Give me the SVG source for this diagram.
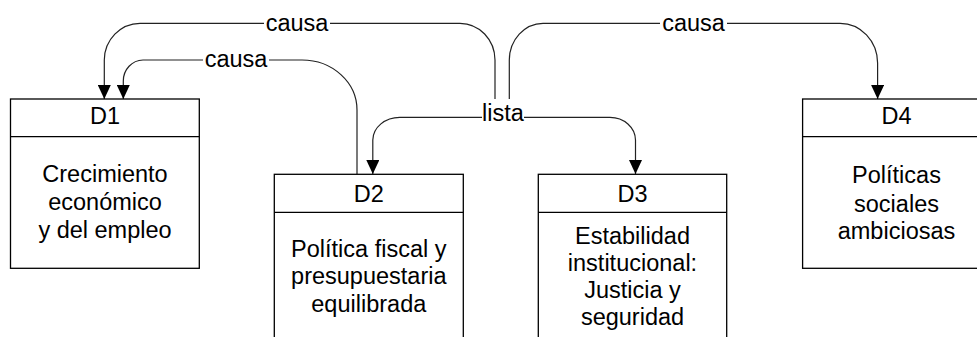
<svg xmlns="http://www.w3.org/2000/svg" width="977" height="337" viewBox="0 0 977 337">
<defs>
<style>
.box{fill:#fff;stroke:#000;stroke-width:1.3}
.div{stroke:#000;stroke-width:1.3;fill:none}
.t{font-family:"Liberation Sans",Arial,sans-serif;font-size:23.5px;fill:#000;text-anchor:middle}
.c{fill:none;stroke:#222;stroke-width:1.2}
.ca{fill:none;stroke:#222;stroke-width:1.2;marker-end:url(#ah)}
.bg{fill:#fff}
</style>
<marker id="ah" markerUnits="userSpaceOnUse" viewBox="0 0 14 13" markerWidth="14" markerHeight="13" refX="14" refY="6.5" orient="auto">
<path d="M0,0 L14,6.5 L0,13 z" fill="#000"/>
</marker>
</defs>
<rect width="977" height="337" fill="#fff"/>
<g id="connectors">
<path class="ca" d="M495 99 V60 A35 37 0 0 0 460 23.3 H140 A36 37 0 0 0 104.3 60 V99"/>
<path class="ca" d="M357 174 V110 A55 50 0 0 0 302 60 H143 A20 21 0 0 0 123.3 81 V99"/>
<path class="ca" d="M482 117.3 H400 A27 23 0 0 0 372.8 140 V174"/>
<path class="ca" d="M524 117.3 H610 A25.5 23 0 0 1 635.5 140 V174"/>
<path class="ca" d="M509.3 99 V60 A34 37 0 0 1 543 23.3 H840 A37.5 40 0 0 1 877.6 63 V99"/>
<rect class="bg" x="264" y="14" width="66" height="20"/>
<text class="t" x="297" y="31">causa</text>
<rect class="bg" x="203" y="51" width="66" height="20"/>
<text class="t" x="236" y="67">causa</text>
<rect class="bg" x="660" y="14" width="67" height="20"/>
<text class="t" x="693.5" y="31">causa</text>
<text class="t" x="503" y="121">lista</text>
</g>
<g id="D1">
<rect class="box" x="10.5" y="99" width="188.8" height="169.3"/>
<line class="div" x1="10.5" y1="136.7" x2="199.3" y2="136.7"/>
<text class="t" x="105" y="124.3">D1</text>
<text class="t" x="105" y="181.7">Crecimiento</text>
<text class="t" x="105" y="210">económico</text>
<text class="t" x="105" y="238.3">y del empleo</text>
</g>
<g id="D2">
<rect class="box" x="274.3" y="174.3" width="189" height="180"/>
<line class="div" x1="274.3" y1="212.3" x2="463.3" y2="212.3"/>
<text class="t" x="368.8" y="201.7">D2</text>
<text class="t" x="368.8" y="257.3">Política fiscal y</text>
<text class="t" x="368.8" y="284.3">presupuestaria</text>
<text class="t" x="368.8" y="311.6">equilibrada</text>
</g>
<g id="D3">
<rect class="box" x="538.3" y="174.3" width="188.4" height="180"/>
<line class="div" x1="538.3" y1="212.3" x2="726.7" y2="212.3"/>
<text class="t" x="632.5" y="201.7">D3</text>
<text class="t" x="632.5" y="244">Estabilidad</text>
<text class="t" x="632.5" y="271">institucional:</text>
<text class="t" x="632.5" y="298.3">Justicia y</text>
<text class="t" x="632.5" y="325">seguridad</text>
</g>
<g id="D4">
<rect class="box" x="802.6" y="99" width="188.8" height="169.3"/>
<line class="div" x1="802.6" y1="136.7" x2="991.4" y2="136.7"/>
<text class="t" x="896.5" y="124.3">D4</text>
<text class="t" x="896.5" y="183.3">Políticas</text>
<text class="t" x="896.5" y="211.5">sociales</text>
<text class="t" x="896.5" y="239">ambiciosas</text>
</g>
</svg>
